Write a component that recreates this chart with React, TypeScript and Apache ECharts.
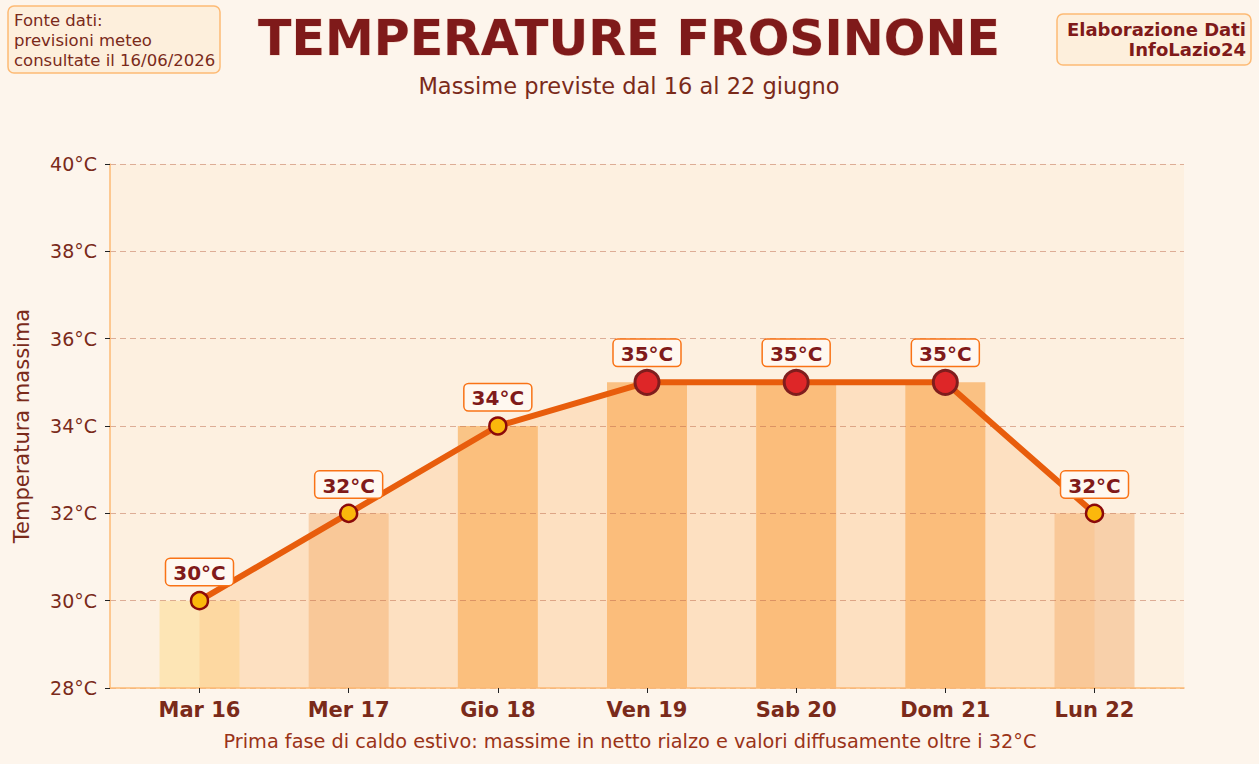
import React, { useEffect, useRef } from "react";
import * as echarts from "echarts";

const days = ["Mar 16", "Mer 17", "Gio 18", "Ven 19", "Sab 20", "Dom 21", "Lun 22"];
const temps = [30, 32, 34, 35, 35, 35, 32];
const yTicks = [28, 30, 32, 34, 36, 38, 40];
const sourceLines = ["Fonte dati:", "previsioni meteo", "consultate il 16/06/2026"];
const creditLines = ["Elaborazione Dati", "InfoLazio24"];
const titleText = "TEMPERATURE FROSINONE";
const subtitleText = "Massime previste dal 16 al 22 giugno";
const captionText =
  "Prima fase di caldo estivo: massime in netto rialzo e valori diffusamente oltre i 32°C";

const FONT = "DejaVu Sans";
const DARK = "#7f1a1a";
const BROWN = "#7a2a1a";

function barColor(v: number): string {
  if (v >= 35) return "#fac183";
  if (v >= 34) return "#fac486";
  if (v >= 32) return "#f8d0aa";
  return "#fde5b5";
}

export default function App() {
  const ref = useRef<HTMLDivElement>(null);
  useEffect(() => {
    if (!ref.current) return;
    const chart = echarts.init(ref.current, null, { renderer: "svg" });
    const points = temps.map((v, i) => [i, v]);
    const option: any = {
      animation: false,
      backgroundColor: "#fdf5ec",
      textStyle: { fontFamily: FONT },
      grid: {
        left: 110,
        right: 75,
        top: 164,
        bottom: 76,
        show: true,
        backgroundColor: "#fdf0e0",
        borderWidth: 0,
        containLabel: false,
        outerBoundsMode: "none",
      },
      xAxis: {
        type: "value",
        min: -0.6,
        max: 6.6,
        z: 4,
        splitLine: { show: false },
        axisLine: { show: true, onZero: false, lineStyle: { color: "#fdba74", width: 1.5 } },
        axisTick: {
          show: true,
          length: 5,
          lineStyle: { color: "#222" },
          customValues: days.map((_, i) => i),
        },
        axisLabel: {
          customValues: days.map((_, i) => i),
          formatter: (v: number) => days[Math.round(v)] ?? "",
          fontSize: 21,
          fontWeight: "bold",
          color: BROWN,
          fontFamily: FONT,
          margin: 11,
        },
      },
      yAxis: {
        type: "value",
        min: yTicks[0],
        max: yTicks[yTicks.length - 1],
        interval: 2,
        z: 4,
        name: "Temperatura massima",
        nameLocation: "middle",
        nameGap: 78,
        nameTextStyle: { fontSize: 21, color: BROWN, fontFamily: FONT },
        axisLine: { show: true, onZero: false, lineStyle: { color: "#fdba74", width: 1.5 } },
        axisTick: { show: true, length: 5, lineStyle: { color: "#222" } },
        axisLabel: {
          formatter: "{value}°C",
          fontSize: 19,
          color: BROWN,
          fontFamily: FONT,
          margin: 13,
        },
        splitLine: {
          show: true,
          lineStyle: { color: "rgba(190,105,75,0.5)", type: [6, 4], width: 1 },
        },
      },
      series: [
        {
          type: "bar",
          barWidth: 80,
          z: 1,
          clip: true,
          data: temps.map((v, i) => ({ value: [i, v], itemStyle: { color: barColor(v) } })),
        },
        {
          type: "line",
          z: 2,
          symbol: "none",
          silent: true,
          lineStyle: { width: 0, opacity: 0 },
          areaStyle: { color: "rgba(253,175,100,0.35)", origin: "start" },
          data: points,
        },
        {
          type: "line",
          z: 6,
          lineStyle: { color: "#e85d0c", width: 6 },
          symbol: "circle",
          data: temps.map((v, i) => {
            const hot = v >= 35;
            return {
              value: [i, v],
              symbolSize: hot ? 24 : 17,
              itemStyle: {
                color: hot ? "#de2628" : "#fbb80c",
                borderColor: hot ? "#7f1d1d" : "#8b0a0a",
                borderWidth: hot ? 3 : 2.5,
              },
              label: { distance: hot ? 3 : 6 },
            };
          }),
          label: {
            show: true,
            position: "top",
            formatter: (p: any) => `${p.value[1]}°C`,
            fontSize: 20,
            fontWeight: "bold",
            fontFamily: FONT,
            color: DARK,
            backgroundColor: "#fff8f0",
            borderColor: "#f97316",
            borderWidth: 1.5,
            borderRadius: 4,
            padding: [4, 7, 2, 7],
          },
        },
      ],
      graphic: [
        {
          type: "text",
          x: 629,
          y: 38,
          style: {
            text: titleText,
            fill: DARK,
            fontSize: 49,
            fontWeight: "bold",
            fontFamily: FONT,
            align: "center",
            verticalAlign: "middle",
            stroke: "#f3d6c8",
            lineWidth: 1,
          },
        },
        {
          type: "text",
          x: 629,
          y: 86,
          style: {
            text: subtitleText,
            fill: BROWN,
            fontSize: 22.5,
            fontFamily: FONT,
            align: "center",
            verticalAlign: "middle",
          },
        },
        {
          type: "rect",
          shape: { x: 8, y: 6, width: 212, height: 67, r: 6 },
          style: { fill: "#fdefdc", stroke: "#fdba74", lineWidth: 1.5 },
        },
        {
          type: "text",
          x: 14,
          y: 10,
          style: {
            text: sourceLines.join("\n"),
            fill: BROWN,
            fontSize: 16.5,
            lineHeight: 20,
            fontFamily: FONT,
            align: "left",
            verticalAlign: "top",
          },
        },
        {
          type: "rect",
          shape: { x: 1057, y: 14, width: 194, height: 51, r: 6 },
          style: { fill: "#fdefdc", stroke: "#fdba74", lineWidth: 1.5 },
        },
        {
          type: "text",
          x: 1246,
          y: 19,
          style: {
            text: creditLines.join("\n"),
            fill: DARK,
            fontSize: 18,
            fontWeight: "bold",
            lineHeight: 20,
            fontFamily: FONT,
            align: "right",
            verticalAlign: "top",
          },
        },
        {
          type: "text",
          x: 630,
          y: 741,
          style: {
            text: captionText,
            fill: "#9a3318",
            fontSize: 19.3,
            fontFamily: FONT,
            align: "center",
            verticalAlign: "middle",
          },
        },
      ],
    };
    chart.setOption(option);
    return () => chart.dispose();
  }, []);
  return (
    <div
      ref={ref}
      style={{ position: "fixed", left: 0, top: 0, width: 1259, height: 764 }}
    />
  );
}
